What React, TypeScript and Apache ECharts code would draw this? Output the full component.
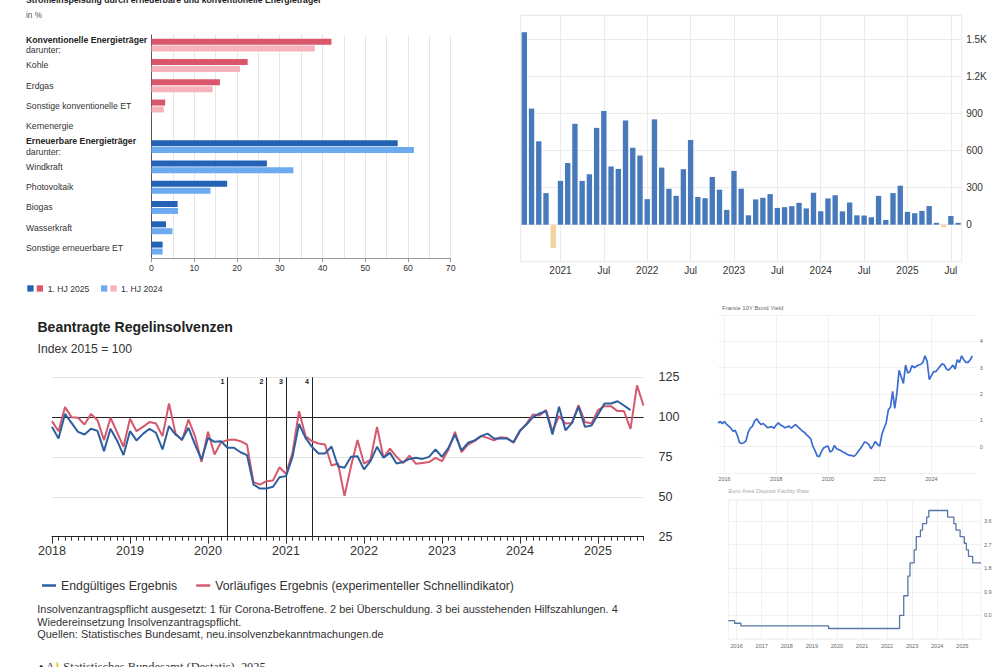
import React, { useEffect, useRef } from 'react';
import * as echarts from 'echarts';

const FONT = "'Liberation Sans', Arial, Helvetica, sans-serif";

function monthRange(y: number, m: number, n: number): string[] {
  const out: string[] = [];
  for (let k = 0; k < n; k++) {
    const t = m - 1 + k;
    const yy = y + Math.floor(t / 12);
    const mm = (t % 12) + 1;
    out.push(`${yy}-${String(mm).padStart(2, '0')}`);
  }
  return out;
}

// ---------- Chart 1: Stromeinspeisung ----------
const energyCategories = [
  'Konventionelle Energieträger',
  'Kohle',
  'Erdgas',
  'Sonstige konventionelle ET',
  'Kernenergie',
  'Erneuerbare Energieträger',
  'Windkraft',
  'Photovoltaik',
  'Biogas',
  'Wasserkraft',
  'Sonstige erneuerbare ET',
];
const boldCategories = ['Konventionelle Energieträger', 'Erneuerbare Energieträger'];
const share2025 = [42.1, 22.5, 16.0, 3.2, 0, 57.6, 27.0, 17.7, 6.1, 3.4, 2.6];
const share2024 = [38.2, 20.7, 14.3, 2.9, 0, 61.4, 33.2, 13.8, 6.2, 4.9, 2.6];
const conventionalRows = 5;
const legend2025 = '1. HJ 2025';
const legend2024 = '1. HJ 2024';

// ---------- Chart 2: monthly bars ----------
const flowMonths = monthRange(2020, 8, 61);
const flowValues = [
  1560, 941, 676, 256, -190, 355, 500, 818, 355, 409, 785, 922, 472, 452, 845, 624,
  561, 207, 854, 463, 291, 234, 450, 687, 225, 215, 387, 284, 120, 436, 292, 76,
  205, 218, 248, 136, 142, 150, 177, 132, 259, 109, 213, 239, 108, 180, 76, 74,
  60, 234, 38, 256, 316, 104, 93, 112, 151, 15, -20, 70, 15,
];

// ---------- Chart 3: Regelinsolvenzen ----------
const insolvMonths = monthRange(2018, 1, 92);
const finalIndex = [
  93.9, 86.6, 102.0, 96.4, 90.8, 89.1, 92.7, 91.4, 78.7, 92.7, 85.4, 76.2,
  91.2, 85.4, 89.5, 92.7, 90.2, 79.7, 94.4, 89.1, 86.0, 93.3, 82.8, 73.4,
  87.0, 84.5, 84.9, 80.8, 80.8, 78.0, 76.2, 57.7, 55.2, 55.2, 56.3, 62.3,
  63.0, 75.1, 95.8, 87.0, 81.4, 77.2, 77.2, 81.6, 69.2, 68.3, 75.1, 75.5,
  67.2, 72.4, 81.4, 74.5, 77.6, 70.9, 71.8, 73.8, 74.5, 73.8, 75.1, 79.7,
  75.1, 80.8, 89.1, 79.1, 83.9, 85.4, 88.1, 89.7, 86.6, 86.6, 86.6, 84.3,
  91.6, 95.4, 100.0, 102.3, 103.8, 89.1, 106.5, 91.8, 96.4, 106.5, 93.9, 94.8,
  101.7, 108.6, 108.6, 110.0, 107.3, 104.4,
];
const flashIndex = [
  97.5, 91.2, 106.3, 100.0, 99.6, 95.4, 102.0, 98.1, 85.6, 99.6, 90.6, 81.4,
  99.0, 91.2, 93.9, 96.9, 96.0, 88.1, 108.6, 89.8, 85.4, 98.5, 88.1, 71.8,
  90.8, 76.6, 84.3, 85.6, 86.0, 84.9, 82.8, 59.2, 57.7, 59.8, 60.3, 68.6,
  64.4, 77.6, 103.8, 88.1, 84.9, 83.5, 82.8, 69.7, 70.9, 50.6, 69.2, 85.6,
  70.9, 73.4, 93.9, 74.5, 80.3, 75.1, 71.3, 75.9, 70.7, 71.3, 71.8, 74.5,
  72.4, 79.7, 90.8, 78.0, 82.8, 84.9, 88.1, 87.0, 85.4, 87.4, 87.0, 83.9,
  91.2, 96.0, 101.7, 101.0, 104.4, 91.2, 100.6, 96.0, 96.4, 107.5, 96.9, 96.0,
  104.4, 106.9, 106.9, 103.8, 103.8, 92.7, 119.9, 107.3,
];
const suspensionMonths = ['2020-04', '2020-10', '2021-01', '2021-05'];
const suspensionLabels = ['1', '2', '3', '4'];
const nameFinal = 'Endgültiges Ergebnis';
const nameFlash = 'Vorläufiges Ergebnis (experimenteller Schnellindikator)';

// ---------- Chart 4: France 10Y ----------
const oatMonths = monthRange(2015, 10, 121);
const oatYield = [
  0.9, 0.95, 0.88,
  0.95, 0.85, 0.78, 0.7, 0.58, 0.62, 0.42, 0.15, 0.12, 0.15, 0.22, 0.55,
  0.7, 0.78, 0.98, 1.06, 0.92, 0.84, 0.88, 0.8, 0.72, 0.74, 0.76, 0.7,
  0.82, 0.9, 0.82, 0.78, 0.72, 0.75, 0.78, 0.7, 0.78, 0.84, 0.75, 0.68,
  0.6, 0.55, 0.46, 0.38, 0.3, 0.02, -0.15, -0.35, -0.38, -0.18, -0.05, 0.0,
  0.02, -0.2, -0.15, 0.05, -0.08, -0.12, -0.15, -0.2, -0.24, -0.3, -0.33, -0.33,
  -0.37, -0.3, -0.18, -0.08, 0.05, 0.18, 0.15, 0.08, -0.08, 0.05, 0.2, 0.08,
  0.02, 0.45, 0.7, 0.9, 1.4, 1.5, 2.1, 1.45, 2.05, 2.9, 2.65, 2.4,
  3.1, 2.8, 2.85, 3.08, 3.0, 3.05, 3.1, 3.12, 3.2, 3.45, 3.25, 2.55,
  2.7, 2.85, 2.85, 2.95, 3.05, 3.15, 3.1, 2.95, 2.9, 3.0, 3.1, 2.95,
  3.3, 3.2, 3.45, 3.3, 3.2, 3.2, 3.3, 3.45,
];

// ---------- Chart 5: deposit facility rate ----------
const dfrMonths = monthRange(2015, 9, 122);
const dfrRate = [
  -0.2, -0.2, -0.2, -0.3,
  -0.3, -0.3, -0.4, -0.4, -0.4, -0.4, -0.4, -0.4, -0.4, -0.4, -0.4, -0.4,
  -0.4, -0.4, -0.4, -0.4, -0.4, -0.4, -0.4, -0.4, -0.4, -0.4, -0.4, -0.4,
  -0.4, -0.4, -0.4, -0.4, -0.4, -0.4, -0.4, -0.4, -0.4, -0.4, -0.4, -0.4,
  -0.4, -0.4, -0.4, -0.4, -0.4, -0.4, -0.4, -0.4, -0.5, -0.5, -0.5, -0.5,
  -0.5, -0.5, -0.5, -0.5, -0.5, -0.5, -0.5, -0.5, -0.5, -0.5, -0.5, -0.5,
  -0.5, -0.5, -0.5, -0.5, -0.5, -0.5, -0.5, -0.5, -0.5, -0.5, -0.5, -0.5,
  -0.5, -0.5, -0.5, -0.5, -0.5, -0.5, 0.0, 0.0, 0.75, 0.75, 1.5, 2.0,
  2.0, 2.5, 3.0, 3.0, 3.25, 3.5, 3.5, 3.75, 4.0, 4.0, 4.0, 4.0,
  4.0, 4.0, 4.0, 4.0, 4.0, 3.75, 3.75, 3.75, 3.5, 3.25, 3.25, 3.0,
  3.0, 2.75, 2.5, 2.25, 2.25, 2.0, 2.0, 2.0, 2.0, 2.0,
];

const RED25 = '#d9566b';
const RED24 = '#f6b3bc';
const BLUE25 = '#2462b6';
const BLUE24 = '#6eaaf0';
const BAR_BLUE = '#4779bb';
const BAR_NEG = '#f3d3a1';
const LINE_BLUE = '#2d5e9f';
const LINE_RED = '#d4596c';

function buildOption(): any {
  const isJanJul = (_i: number, v: string) => v.endsWith('-01') || v.endsWith('-07');
  const yearIdx = (i: number) => i % 12 === 0;

  return {
    animation: false,
    backgroundColor: '#ffffff',
    textStyle: { fontFamily: FONT },
    legend: {
      left: 37,
      top: 574.5,
      icon: 'rect',
      itemWidth: 14,
      itemHeight: 2.5,
      itemGap: 19,
      selectedMode: false,
      textStyle: { fontSize: 12.3, color: '#333', fontFamily: FONT },
      data: [nameFinal, nameFlash],
    },
    grid: [
      { left: 151.5, top: 35, width: 299.2, height: 223.2 },
      { left: 520.7, top: 15, width: 441, height: 246.7, show: true, borderColor: '#ebebeb', borderWidth: 1 },
      { left: 52, top: 377.3, width: 591.5, height: 159.4 },
      { left: 718, top: 315, width: 258.7, height: 158 },
      { left: 728.3, top: 500, width: 252.7, height: 139, show: true, borderColor: '#f0f0f0', borderWidth: 1 },
    ],
    xAxis: [
      {
        gridIndex: 0,
        type: 'value',
        min: 0,
        max: 70,
        interval: 10,
        axisLine: { show: true, lineStyle: { color: '#999' } },
        axisTick: { show: true, length: 4, lineStyle: { color: '#999' } },
        axisLabel: { fontSize: 8.7, color: '#333', margin: 5.5 },
        splitLine: { show: true, lineStyle: { color: '#e6e6e6' } },
        minorTick: { show: false, splitNumber: 2 },
        minorSplitLine: { show: true, lineStyle: { color: '#e6e6e6' } },
      },
      {
        gridIndex: 1,
        type: 'category',
        data: flowMonths,
        axisLine: { show: false },
        axisTick: { show: false },
        axisLabel: {
          interval: isJanJul,
          fontSize: 10,
          color: '#333',
          margin: 3.5,
          formatter: (v: string) => (v.endsWith('-01') ? v.slice(0, 4) : 'Jul'),
        },
        splitLine: { show: false },
      },
      {
        gridIndex: 2,
        type: 'category',
        data: insolvMonths,
        boundaryGap: false,
        axisLine: { show: true, lineStyle: { color: '#222', width: 1 } },
        axisTick: { show: true, interval: 0, length: 4, lineStyle: { color: '#333' } },
        axisLabel: { show: false },
        splitLine: { show: false },
      },
      {
        gridIndex: 2,
        type: 'category',
        data: insolvMonths,
        boundaryGap: false,
        position: 'bottom',
        axisLine: { show: false },
        axisTick: { show: true, interval: yearIdx, length: 7, lineStyle: { color: '#333' } },
        axisLabel: {
          interval: yearIdx,
          fontSize: 12.5,
          color: '#333',
          margin: 8,
          formatter: (v: string) => v.slice(0, 4),
        },
        splitLine: { show: false },
      },
      {
        gridIndex: 3,
        type: 'category',
        data: oatMonths,
        boundaryGap: false,
        axisLine: { show: false },
        axisTick: { show: false },
        axisLabel: {
          interval: (_i: number, v: string) => v.endsWith('-01') && Number(v.slice(0, 4)) % 2 === 0,
          formatter: (v: string) => v.slice(0, 4),
          fontSize: 5.5,
          color: '#666',
          margin: 3,
        },
        splitLine: {
          show: true,
          interval: (_i: number, v: string) => v.endsWith('-01') && Number(v.slice(0, 4)) % 2 === 0,
          lineStyle: { color: '#f1f1f1' },
        },
      },
      {
        gridIndex: 4,
        type: 'category',
        data: dfrMonths,
        boundaryGap: false,
        axisLine: { show: false },
        axisTick: { show: false },
        axisLabel: {
          interval: (_i: number, v: string) => v.endsWith('-01'),
          formatter: (v: string) => v.slice(0, 4),
          fontSize: 5.5,
          color: '#666',
          margin: 3.5,
        },
        splitLine: {
          show: true,
          interval: (_i: number, v: string) => v.endsWith('-01'),
          lineStyle: { color: '#f1f1f1' },
        },
      },
    ],
    yAxis: [
      {
        gridIndex: 0,
        type: 'category',
        inverse: true,
        data: energyCategories,
        axisLine: { show: true, lineStyle: { color: '#555' } },
        axisTick: { show: false },
        axisLabel: {
          align: 'left',
          margin: 125.5,
          color: '#333',
          formatter: (v: string) =>
            boldCategories.includes(v) ? `{b|${v}}\n{n|darunter:}` : `{n|${v}}`,
          rich: {
            b: { fontSize: 8.7, fontWeight: 'bold', color: '#222', lineHeight: 10.5, fontFamily: FONT },
            n: { fontSize: 8.7, color: '#333', lineHeight: 10.5, fontFamily: FONT },
          },
        },
      },
      {
        gridIndex: 1,
        type: 'value',
        position: 'right',
        min: -300,
        max: 1700,
        interval: 300,
        axisLine: { show: false },
        axisTick: { show: false },
        axisLabel: {
          fontSize: 10,
          color: '#333',
          margin: 4.5,
          formatter: (v: number) =>
            v < 0 || v > 1500 ? '' : v >= 1000 ? (v / 1000).toFixed(1) + 'K' : String(v),
        },
        splitLine: { show: true, lineStyle: { color: '#ebebeb' } },
      },
      {
        gridIndex: 2,
        type: 'value',
        position: 'right',
        min: 25,
        max: 125,
        interval: 25,
        axisLine: { show: false },
        axisTick: { show: false },
        axisLabel: { fontSize: 12.5, color: '#333', margin: 15 },
        splitLine: { show: true, lineStyle: { color: '#e4e4e4' } },
      },
      {
        gridIndex: 3,
        type: 'value',
        position: 'right',
        min: -1,
        max: 5,
        interval: 1,
        axisLine: { show: false },
        axisTick: { show: false },
        axisLabel: {
          fontSize: 5.5,
          color: '#666',
          margin: 3,
          formatter: (v: number) => (v < 0 || v > 4 ? '' : String(v)),
        },
        splitLine: { show: true, lineStyle: { color: '#f1f1f1' } },
      },
      {
        gridIndex: 4,
        type: 'value',
        position: 'right',
        min: -0.9,
        max: 4.4,
        interval: 0.9,
        axisLine: { show: false },
        axisTick: { show: false },
        axisLabel: {
          fontSize: 5.5,
          color: '#666',
          margin: 3,
          formatter: (v: number) => (v < -0.01 || v > 3.65 ? '' : v.toFixed(1)),
        },
        splitLine: { show: true, lineStyle: { color: '#f1f1f1' } },
      },
    ],
    series: [
      {
        name: legend2025,
        type: 'bar',
        xAxisIndex: 0,
        yAxisIndex: 0,
        barWidth: 6,
        barGap: '15%',
        data: share2025.map((v, i) => ({
          value: v,
          itemStyle: { color: i < conventionalRows ? RED25 : BLUE25 },
        })),
      },
      {
        name: legend2024,
        type: 'bar',
        xAxisIndex: 0,
        yAxisIndex: 0,
        barWidth: 6,
        barGap: '15%',
        data: share2024.map((v, i) => ({
          value: v,
          itemStyle: { color: i < conventionalRows ? RED24 : BLUE24 },
        })),
      },
      {
        type: 'bar',
        xAxisIndex: 1,
        yAxisIndex: 1,
        barCategoryGap: '26%',
        data: flowValues.map((v) => ({ value: v, itemStyle: { color: v < 0 ? BAR_NEG : BAR_BLUE } })),
        markLine: {
          z: 1,
          silent: true,
          symbol: ['none', 'none'],
          label: { show: false },
          lineStyle: { color: '#ebebeb', width: 1, type: 'solid' },
          data: flowMonths.filter((m) => isJanJul(0, m)).map((m) => ({ xAxis: m })),
        },
      },
      {
        name: nameFinal,
        type: 'line',
        xAxisIndex: 2,
        yAxisIndex: 2,
        data: finalIndex,
        symbol: 'none',
        z: 3,
        lineStyle: { color: LINE_BLUE, width: 2 },
        itemStyle: { color: LINE_BLUE },
        markLine: {
          z: 1,
          silent: true,
          symbol: ['none', 'none'],
          label: { show: false },
          lineStyle: { color: '#222', width: 1, type: 'solid' },
          data: [{ yAxis: 100 }, ...suspensionMonths.map((m) => ({ xAxis: m }))],
        },
        markPoint: {
          silent: true,
          symbol: 'rect',
          symbolSize: 0,
          label: {
            show: true,
            position: 'left',
            distance: 3,
            formatter: '{c}',
            fontSize: 7,
            fontWeight: 'bold',
            color: '#222',
          },
          data: suspensionMonths.map((m, i) => ({ coord: [m, 122.6], value: suspensionLabels[i] })),
        },
      },
      {
        name: nameFlash,
        type: 'line',
        xAxisIndex: 2,
        yAxisIndex: 2,
        data: flashIndex,
        symbol: 'none',
        z: 2,
        lineStyle: { color: LINE_RED, width: 2 },
        itemStyle: { color: LINE_RED },
      },
      {
        type: 'line',
        xAxisIndex: 4,
        yAxisIndex: 3,
        data: oatYield,
        symbol: 'none',
        lineStyle: { color: '#3a6cd2', width: 1.7 },
        itemStyle: { color: '#3a6cd2' },
      },
      {
        type: 'line',
        xAxisIndex: 5,
        yAxisIndex: 4,
        data: dfrRate,
        step: 'end',
        symbol: 'none',
        lineStyle: { color: '#5676a6', width: 1.3 },
        itemStyle: { color: '#5676a6' },
      },
    ],
    graphic: [
      {
        type: 'text',
        left: 26,
        top: -5,
        style: {
          text: 'Stromeinspeisung durch erneuerbare und konventionelle Energieträger',
          font: `bold 8.7px ${FONT}`,
          fill: '#222',
        },
      },
      { type: 'text', left: 26, top: 11, style: { text: 'in %', font: `8.2px ${FONT}`, fill: '#555' } },
      { type: 'rect', shape: { x: 27.3, y: 285.3, width: 6.3, height: 6.3 }, style: { fill: BLUE25 } },
      { type: 'rect', shape: { x: 36.7, y: 285.3, width: 6.3, height: 6.3 }, style: { fill: RED25 } },
      { type: 'text', x: 47.7, y: 288.5, style: { text: legend2025, font: `8.6px ${FONT}`, fill: '#333', textVerticalAlign: 'middle' } },
      { type: 'rect', shape: { x: 101, y: 285.3, width: 6.3, height: 6.3 }, style: { fill: BLUE24 } },
      { type: 'rect', shape: { x: 110.4, y: 285.3, width: 6.3, height: 6.3 }, style: { fill: RED24 } },
      { type: 'text', x: 121, y: 288.5, style: { text: legend2024, font: `8.6px ${FONT}`, fill: '#333', textVerticalAlign: 'middle' } },

      { type: 'text', x: 37.5, y: 327, style: { text: 'Beantragte Regelinsolvenzen', font: `bold 14px ${FONT}`, fill: '#222', textVerticalAlign: 'middle' } },
      { type: 'text', x: 37.5, y: 349, style: { text: 'Index 2015 = 100', font: `12.2px ${FONT}`, fill: '#333', textVerticalAlign: 'middle' } },
      {
        type: 'text', x: 37.3, y: 609.3,
        style: {
          text: 'Insolvenzantragspflicht ausgesetzt: 1 für Corona-Betroffene. 2 bei Überschuldung. 3 bei ausstehenden Hilfszahlungen. 4',
          font: `10.9px ${FONT}`, fill: '#333', textVerticalAlign: 'middle',
        },
      },
      { type: 'text', x: 37.3, y: 621.7, style: { text: 'Wiedereinsetzung Insolvenzantragspflicht.', font: `10.9px ${FONT}`, fill: '#333', textVerticalAlign: 'middle' } },
      { type: 'text', x: 37.3, y: 634, style: { text: 'Quellen: Statistisches Bundesamt, neu.insolvenzbekanntmachungen.de', font: `10.9px ${FONT}`, fill: '#333', textVerticalAlign: 'middle' } },
      { type: 'text', x: 39, y: 661, style: { text: '• A', font: `12.4px 'Liberation Serif', serif`, fill: '#333' } },
      { type: 'rect', shape: { x: 56.5, y: 662.5, width: 1.6, height: 6 }, style: { fill: '#f2c200' } },
      { type: 'text', x: 63.3, y: 661, style: { text: 'Statistisches Bundesamt (Destatis), 2025', font: `12.4px 'Liberation Serif', serif`, fill: '#333' } },

      { type: 'text', x: 722, y: 308, style: { text: 'France 10Y Bond Yield', font: `6px ${FONT}`, fill: '#666', textVerticalAlign: 'middle' } },
      { type: 'text', x: 728.5, y: 490.5, style: { text: 'Euro Area Deposit Facility Rate', font: `5.8px ${FONT}`, fill: '#aaa', textVerticalAlign: 'middle' } },
    ],
  };
}

export default function App() {
  const ref = useRef<HTMLDivElement>(null);
  useEffect(() => {
    document.body.style.margin = '0';
    const chart = echarts.init(ref.current as HTMLDivElement, undefined, { renderer: 'svg' });
    chart.setOption(buildOption());
    return () => chart.dispose();
  }, []);
  return (
    <div
      ref={ref}
      style={{ position: 'absolute', left: 0, top: 0, width: 1000, height: 667, background: '#ffffff' }}
    />
  );
}
